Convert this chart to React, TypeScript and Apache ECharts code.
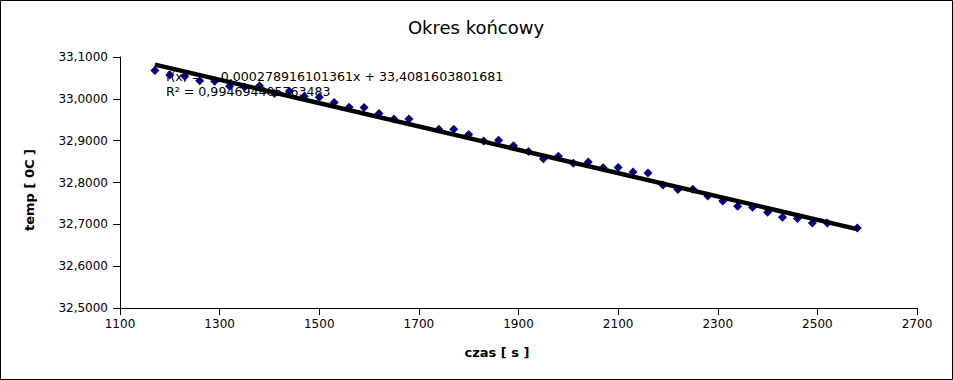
import React, { useEffect, useRef } from "react";
import * as echarts from "echarts";

const TITLE = "Okres końcowy";
const X_NAME = "czas [ s ]";
const Y_NAME = "temp [ 0C ]";

const xTicks = [1100, 1300, 1500, 1700, 1900, 2100, 2300, 2500, 2700];
const yTicks = [32.5, 32.6, 32.7, 32.8, 32.9, 33.0, 33.1];

const times = [
  1170, 1200, 1230, 1260, 1290, 1320, 1350, 1380, 1410, 1440, 1470, 1500, 1530, 1560, 1590,
  1620, 1650, 1680, 1740, 1770, 1800, 1830, 1860, 1890, 1920, 1950, 1980, 2010, 2040, 2070,
  2100, 2130, 2160, 2190, 2220, 2250, 2280, 2310, 2340, 2370, 2400, 2430, 2460, 2490, 2520,
  2580,
];
const temps = [
  33.068, 33.057, 33.054, 33.043, 33.042, 33.03, 33.028, 33.031, 33.013, 33.018, 33.006, 33.004,
  32.991, 32.98, 32.979, 32.965, 32.952, 32.952, 32.927, 32.927, 32.915, 32.899, 32.901, 32.888,
  32.874, 32.857, 32.863, 32.846, 32.849, 32.835, 32.836, 32.825, 32.823, 32.794, 32.783, 32.784,
  32.768, 32.756, 32.743, 32.741, 32.729, 32.717, 32.714, 32.703, 32.703, 32.691,
];

const slope = -0.000278916101361;
const intercept = 33.4081603801681;
const trendRange = [1170, 2580];
const equationText = "f(x) = − 0,000278916101361x + 33,4081603801681";
const r2Text = "R² = 0,994694405763483";

const FONT = "DejaVu Sans";

export default function App() {
  const ref = useRef<HTMLDivElement>(null);
  useEffect(() => {
    if (!ref.current) return;
    const chart = echarts.init(ref.current, undefined, { renderer: "svg" });
    const trend = trendRange.map((x) => [x, intercept + slope * x]);
    chart.setOption({
      animation: false,
      backgroundColor: "#ffffff",
      textStyle: { fontFamily: FONT },
      grid: { left: 120, right: 36, top: 57, bottom: 72, containLabel: false },
      xAxis: {
        type: "value",
        min: 1100,
        max: 2700,
        splitLine: { show: false },
        axisLine: { show: true, onZero: false, lineStyle: { color: "#000", width: 1 } },
        axisTick: { show: true, length: 7, customValues: xTicks, lineStyle: { color: "#000" } },
        axisLabel: {
          customValues: xTicks,
          color: "#000",
          fontFamily: FONT,
          fontSize: 12,
          margin: 10,
          formatter: (v: number) => String(v),
        },
      },
      yAxis: {
        type: "value",
        min: 32.5,
        max: 33.1,
        splitLine: { show: false },
        axisLine: { show: true, onZero: false, lineStyle: { color: "#000", width: 1 } },
        axisTick: { show: true, length: 7, customValues: yTicks, lineStyle: { color: "#000" } },
        axisLabel: {
          customValues: yTicks,
          color: "#000",
          fontFamily: FONT,
          fontSize: 12,
          margin: 12,
          formatter: (v: number) => v.toFixed(4).replace(".", ","),
        },
      },
      graphic: [
        {
          type: "rect",
          shape: { x: 0.5, y: 0.5, width: 952, height: 379 },
          style: { fill: "none", stroke: "#000", lineWidth: 1 },
          silent: true,
          z: 100,
        },
        {
          type: "text",
          x: 476,
          y: 27,
          style: {
            text: TITLE,
            fontFamily: FONT,
            fontSize: 18,
            fill: "#000",
            align: "center",
            verticalAlign: "middle",
          },
        },
        {
          type: "text",
          x: 497,
          y: 352,
          style: {
            text: X_NAME,
            fontFamily: FONT,
            fontSize: 13,
            fontWeight: "bold",
            fill: "#000",
            align: "center",
            verticalAlign: "middle",
          },
        },
        {
          type: "text",
          x: 29.5,
          y: 190,
          rotation: Math.PI / 2,
          style: {
            text: Y_NAME,
            fontFamily: FONT,
            fontSize: 13,
            fontWeight: "bold",
            fill: "#000",
            align: "center",
            verticalAlign: "middle",
          },
        },
        {
          type: "text",
          x: 166,
          y: 76.5,
          z: -1,
          style: {
            text: equationText,
            fontFamily: FONT,
            fontSize: 12.6,
            fill: "#000",
            align: "left",
            verticalAlign: "middle",
          },
        },
        {
          type: "text",
          x: 166,
          y: 91.5,
          z: -1,
          style: {
            text: r2Text,
            fontFamily: FONT,
            fontSize: 12.6,
            fill: "#000",
            align: "left",
            verticalAlign: "middle",
          },
        },
      ],
      series: [
        {
          type: "scatter",
          data: times.map((t, i) => [t, temps[i]]),
          symbol: "diamond",
          symbolSize: 9,
          itemStyle: { color: "#000080", opacity: 1 },
          z: 3,
        },
        {
          type: "line",
          data: trend,
          showSymbol: false,
          symbol: "none",
          lineStyle: { color: "#000", width: 4.5 },
          z: 4,
        },
      ],
    });
    return () => chart.dispose();
  }, []);
  return (
    <div
      ref={ref}
      style={{ position: "absolute", left: 0, top: 0, width: 953, height: 380, background: "#fff" }}
    />
  );
}
